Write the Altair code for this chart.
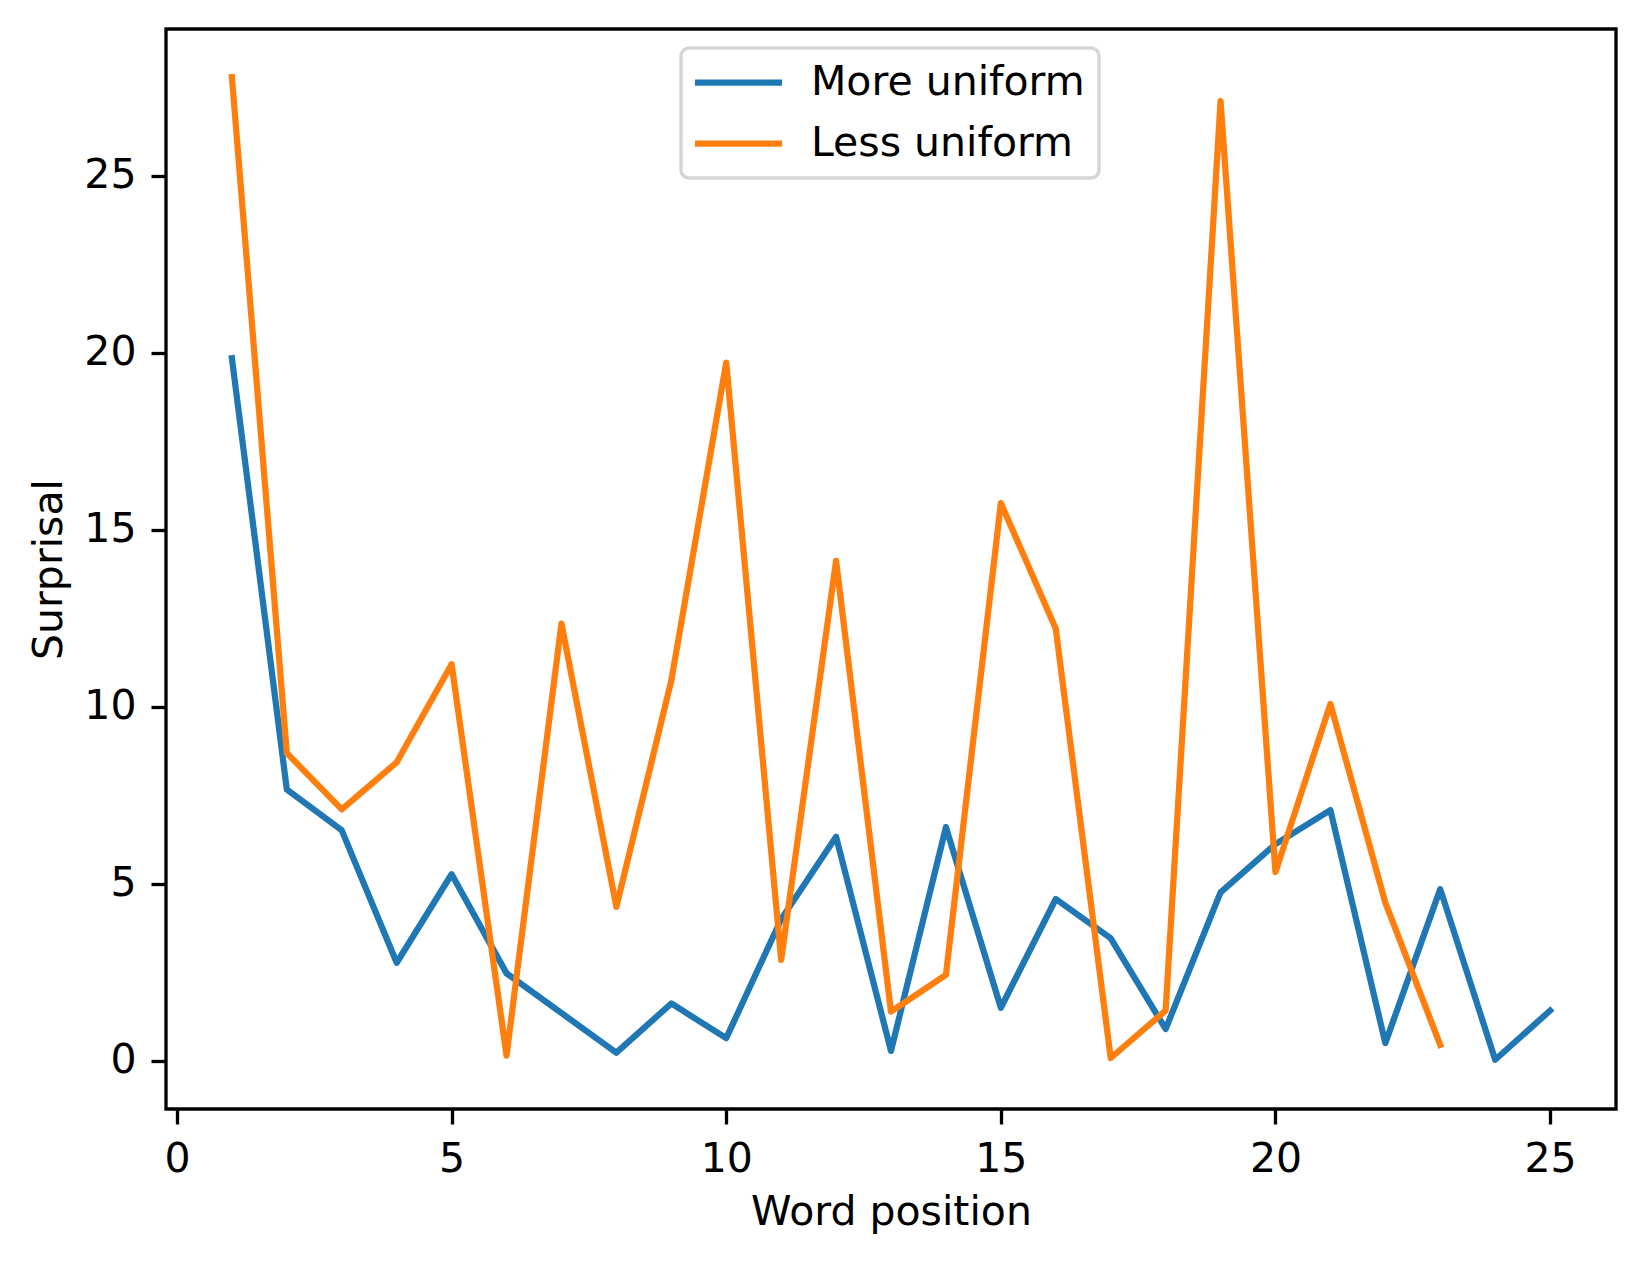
import altair as alt
import pandas as pd

positions_more = list(range(1, 26))
surprisal_more = [19.84, 7.66, 6.51, 2.77, 5.27, 2.47, 1.35, 0.23, 1.62, 0.64,
                  4.0, 6.33, 0.28, 6.6, 1.5, 4.57, 3.46, 0.9, 4.76, 6.12,
                  7.08, 0.5, 4.85, 0.03, 1.42]
positions_less = list(range(1, 24))
surprisal_less = [27.78, 8.69, 7.1, 8.43, 11.2, 0.15, 12.35, 4.35, 10.74, 19.72,
                  2.85, 14.12, 1.39, 2.43, 15.75, 12.2, 0.08, 1.42, 27.1, 5.33,
                  10.08, 4.47, 0.45]
series_names = ["More uniform", "Less uniform"]
series_colors = ["#1f77b4", "#ff7f0e"]
tick_values = [0, 5, 10, 15, 20, 25]

rows = []
for i, (x, y) in enumerate(zip(positions_more, surprisal_more)):
    rows.append({"pos": x, "surprisal": y, "series": series_names[0], "order": i})
for i, (x, y) in enumerate(zip(positions_less, surprisal_less)):
    rows.append({"pos": x, "surprisal": y, "series": series_names[1], "order": i})
df = pd.DataFrame(rows)

FONT = "DejaVu Sans"
FS = 41

chart = alt.Chart(df).mark_line(
    strokeWidth=6.25, strokeCap="square", strokeJoin="round"
).encode(
    x=alt.X("pos:Q", title="Word position",
            scale=alt.Scale(domain=[-0.2, 26.2], nice=False, zero=False),
            axis=alt.Axis(values=tick_values, format="d", titlePadding=13)),
    y=alt.Y("surprisal:Q", title="Surprisal",
            scale=alt.Scale(domain=[-1.36, 29.14], nice=False, zero=False),
            axis=alt.Axis(values=tick_values, format="d", titlePadding=13)),
    color=alt.Color("series:N",
                    scale=alt.Scale(domain=series_names, range=series_colors),
                    legend=alt.Legend(title=None, orient="none", legendX=515, legendY=19,
                                      symbolType="M-2.6,0H2.6", symbolSize=1122,
                                      symbolStrokeWidth=6.25, labelFontSize=FS,
                                      labelFont=FONT, labelOffset=52, padding=14,
                                      symbolOffset=23, rowPadding=19,
                                      labelLimit=1000,
                                      strokeColor="#d6d6d6", fillColor="white",
                                      cornerRadius=8, labelColor="black")),
    order="order:Q",
).properties(
    width=1450, height=1080,
    padding={"left": 20, "top": 21, "right": 5, "bottom": 5},
    background="white",
).configure_view(
    stroke="black", strokeWidth=3.3
).configure_axis(
    grid=False, domain=False, tickColor="black", tickWidth=3.3, tickSize=15,
    labelFont=FONT, labelFontSize=FS, labelColor="black", labelPadding=15,
    titleFont=FONT, titleFontSize=FS, titleColor="black", titleFontWeight="normal",
    labelFlush=False, labelOverlap=False,
).configure_legend(
    strokeWidth=3.5
)

chart.save("out.html", embed_options={"renderer": "svg", "actions": False})
